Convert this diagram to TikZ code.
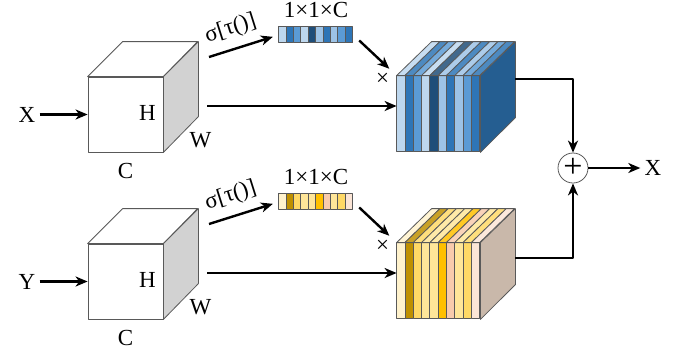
\documentclass[tikz,border=0pt]{standalone}
\usepackage{fontspec}
\setmainfont{Liberation Serif}
\usetikzlibrary{positioning,calc,arrows.meta}
\definecolor{bA}{HTML}{BDD7EE}
\definecolor{bB}{HTML}{9DC3E6}
\definecolor{bC}{HTML}{5B9BD5}
\definecolor{bD}{HTML}{2E75B6}
\definecolor{bE}{HTML}{1F4E79}
\definecolor{bS}{HTML}{255E91}
\definecolor{yA}{HTML}{FFF2CC}
\definecolor{yB}{HTML}{BF9000}
\definecolor{yC}{HTML}{FFD966}
\definecolor{yD}{HTML}{FFE699}
\definecolor{yE}{HTML}{FFC000}
\definecolor{yF}{HTML}{F8CBAD}
\definecolor{yG}{HTML}{FBE5D6}
\definecolor{yS}{HTML}{C9B8AA}
\begin{document}
\begin{tikzpicture}[x=0.5pt,y=-0.5pt,>={Stealth[length=6pt,width=5pt,inset=1.8pt]},line join=round,
	font=\fontsize{11.5}{13}\selectfont,
	face/.style={draw=gray!70!black,line width=0.4pt},
	flow/.style={->,line width=1.2pt},
	box/.style={inner sep=0pt,minimum width=#1}]
	\useasboundingbox (0,0) rectangle (684,349);
	\def\d{35} % depth
	\foreach \dy/\inp/\n/\cols/\side/\ry in {0/X/a/{bA,bD,bC,bA,bE,bB,bD,bB,bC,bD}/bS/79,
		167/Y/b/{yA,yB,yC,yD,yD,yE,yF,yD,yC,yG}/yS/258}{
		% input cube
		\node[face,fill=white,box=37.5pt,minimum height=37.5pt] (c\n) at (125.5,114.5+\dy) {};
		\draw[face,fill=white] (c\n.north west) -- ++(\d,-\d) -- ++(75,0) -- (c\n.north east) -- cycle;
		\draw[face,fill=gray!35] (c\n.north east) -- ++(\d,-\d) -- ++(0,75) -- (c\n.south east) -- cycle;
		\node at ($(c\n.east)+(-16,-2)$) {H};
		\node at ($(c\n.south east)+(37,-12)$) {W};
		\node[below=2pt] at (c\n.south) {C};
		\node[inner sep=2pt] (in\n) at (27,114.5+\dy) {\inp};
		\draw[flow] (in\n) -- (c\n.west);
		% weight vector
		\node[box=37pt,minimum height=8pt] (s\n) at (316,35+\dy) {};
		\foreach \c [count=\i from 0] in \cols
			\draw[face,fill=\c] ($(s\n.north west)+(7.4*\i,0)$) rectangle ++(7.4,16);
		\node[above=1pt] at (s\n.north) {1×1×C};
		\coordinate (g\n) at (209,57+\dy);
		\draw[flow,shorten >=3pt] (g\n) -- (s\n.west) node[pos=0.4,above=1pt,sloped] {σ[τ()]};
		% weighted block
		\node[box=41.5pt,minimum height=38pt] (k\n) at (438.5,114+\dy) {};
		\foreach \c [count=\i from 0] in \cols{
			\draw[face,fill=\c] ($(k\n.north west)+(8.3*\i,0)$) rectangle ++(8.3,76);
			\draw[face,fill=\c!85!white] ($(k\n.north west)+(8.3*\i,0)$) -- ++(\d,-34) -- ++(8.3,0) -- ++(-\d,34) -- cycle;
		}
		\draw[face,fill=\side] (k\n.north east) -- ++(\d,-34) -- ++(0,76) -- (k\n.south east) -- cycle;
		\draw[flow,shorten <=4pt,shorten >=5pt] (s\n.east) -- (k\n.north west);
		\node at ($(k\n.north west)+(-14,4)$) {×};
		\coordinate (o\n) at (207,106+\dy);
		\draw[flow] (o\n) -- (o\n -| k\n.west);
		\coordinate (r\n) at (515,\ry);
	}
	\node[draw=gray!70!black,circle,line width=0.4pt,minimum size=15pt,inner sep=0pt,
		font=\fontsize{17}{17}\selectfont] (pl) at (573,168) {+};
	\draw[flow] (ra) -| (pl.north);
	\draw[flow] (rb) -| (pl.south);
	\node[inner sep=2pt] (out) at (653,168) {X};
	\draw[flow] (pl) -- (out);
\end{tikzpicture}
\end{document}
